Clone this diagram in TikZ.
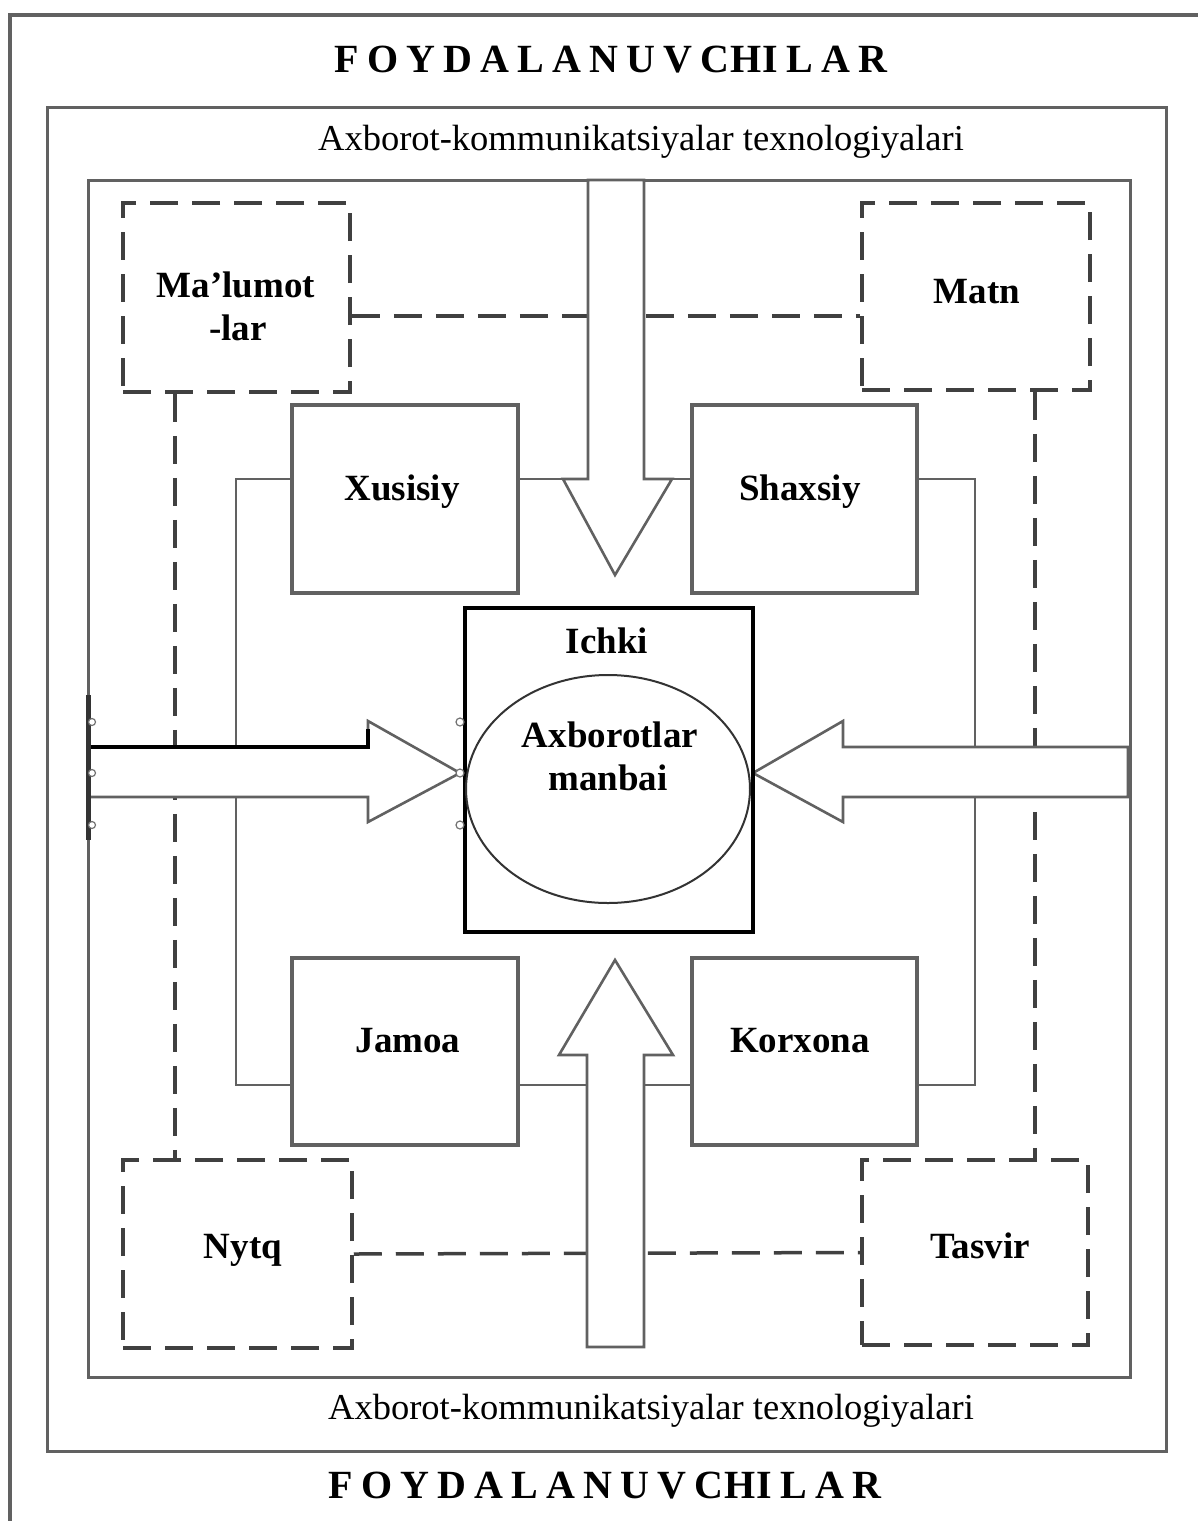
\documentclass[tikz,border=0pt]{standalone}
\usepackage{fontspec}
\setmainfont{Liberation Serif}
\usetikzlibrary{shapes.geometric}
\begin{document}
\begin{tikzpicture}[x=1pt,y=-1pt,
  frame/.style={draw=black!62,line width=3pt},
  box/.style={draw=black!62,line width=3.2pt,fill=white,inner sep=0pt},
  dbox/.style={draw=black!75,line width=3.5pt,dash pattern=on 28pt off 14pt,inner sep=0pt},
  dline/.style={draw=black!75,line width=3.5pt,dash pattern=on 28pt off 14pt},
  link/.style={draw=black!62,line width=2.4pt},
  blockarrow/.style={draw=black!62,line width=2.6pt,fill=white,line join=miter},
  lbl/.style={font=\fontsize{37}{42}\selectfont\bfseries,inner sep=0pt,anchor=base},
  ict/.style={font=\fontsize{36.5}{42}\selectfont,inner sep=0pt,anchor=base},
  users/.style={font=\fontsize{40}{45}\selectfont\bfseries,inner sep=0pt,anchor=base},
  handle/.style={draw=black!55,line width=1.2pt,fill=white}
]
\useasboundingbox (0,0) rectangle (1198,1521);
\fill[white] (0,0) rectangle (1198,1521);

% frames
\draw[frame,line width=3.5pt] (10,1521) -- (10,15) -- (1198,15);
\draw[frame] (47,107) rectangle (1166,1451);
\draw[frame] (88,180) rectangle (1130,1377);

% titles
\node[users] (topUsers) at (611,72) {\makebox[553pt][s]{F\hfill O\hfill Y\hfill D\hfill A\hfill L\hfill A\hfill N\hfill U\hfill V\hfill C\kern1pt H\kern1pt I\hfill L\hfill A\hfill R}};
\node[users] (botUsers) at (605,1498) {\makebox[553pt][s]{F\hfill O\hfill Y\hfill D\hfill A\hfill L\hfill A\hfill N\hfill U\hfill V\hfill C\kern1pt H\kern1pt I\hfill L\hfill A\hfill R}};
\node[ict] (topIct) at (641,150) {Axborot-kommunikatsiyalar texnologiyalari};
\node[ict] (botIct) at (651,1419) {Axborot-kommunikatsiyalar texnologiyalari};

% helper coordinates for the routed links
\coordinate (kL)  at (236,479);
\coordinate (kLb) at (236,1085);
\coordinate (kR)  at (975,479);
\coordinate (kRb) at (975,1085);
\coordinate (dT)  at (0,316);
\coordinate (vL)  at (175,0);
\coordinate (vR)  at (1035,0);
\coordinate (dnL) at (563,479);
\coordinate (dnR) at (672,479);
\coordinate (upL) at (587,1085);
\coordinate (upR) at (644,1085);

% dashed boxes
\node[dbox,minimum width=227pt,minimum height=189pt] (Malumot) at (236.5,297.5) {};
\node[dbox,minimum width=228pt,minimum height=187pt] (Matn)    at (976,296.5) {};
\node[dbox,minimum width=229pt,minimum height=188pt] (Nytq)    at (237.5,1254) {};
\node[dbox,minimum width=226pt,minimum height=185pt] (Tasvir)  at (975,1252.5) {};

% dashed links
\draw[dline] (Malumot.east |- dT) -- (Matn.west |- dT);
\draw[dline] (Nytq.east) -- (Tasvir.west);
\draw[dline] (Malumot.south -| vL) -- (Nytq.north -| vL);
\draw[dline] (Matn.south -| vR) -- (Tasvir.north -| vR);

% solid boxes
\node[box,minimum width=226pt,minimum height=188pt] (Xusisiy) at (405,499) {};
\node[box,minimum width=225pt,minimum height=188pt] (Shaxsiy) at (804.5,499) {};
\node[box,minimum width=226pt,minimum height=187pt] (Jamoa)   at (405,1051.5) {};
\node[box,minimum width=225pt,minimum height=187pt] (Korxona) at (804.5,1051.5) {};

% routed links
\draw[link] (Xusisiy.west |- kL) -- (kL) -- (kLb) -- (Jamoa.west |- kLb);
\draw[link] (Shaxsiy.east |- kR) -- (kR) -- (kRb) -- (Korxona.east |- kRb);
\draw[link] (Xusisiy.east |- kL) -- (dnL);
\draw[link] (dnR) -- (Shaxsiy.west |- kR);
\draw[link] (Jamoa.east |- kLb) -- (upL);
\draw[link] (upR) -- (Korxona.west |- kRb);

% block arrows
\draw[blockarrow] (88,747) -- (368,747) -- (368,721) -- (460,773) -- (368,822) -- (368,797) -- (88,797) -- cycle;
\draw[black,line width=3.6pt] (88,747) -- (368,747) -- (368,729);
\draw[black!80,line width=5pt] (88,695) -- (88,840);
\draw[blockarrow] (1128,747) -- (843,747) -- (843,721) -- (753,773) -- (843,822) -- (843,797) -- (1128,797) -- cycle;
\draw[blockarrow] (588,180) -- (588,479) -- (563,479) -- (615,575) -- (672,479) -- (644,479) -- (644,180) -- cycle;
\draw[blockarrow] (587,1347) -- (587,1055) -- (559,1055) -- (615,960) -- (673,1055) -- (644,1055) -- (644,1347) -- cycle;

% centre block
\node[draw=black,line width=3.6pt,fill=white,minimum width=288pt,minimum height=324pt,inner sep=0pt] (Ichki) at (609,770) {};
\node[draw=black!80,line width=2pt,ellipse,minimum width=284pt,minimum height=228pt,inner sep=0pt] (Manba) at (608,789) {};
\draw[black,line width=4pt] (753,735) -- (753,805);

% selection handles
\foreach \yy in {722,773,825} {
  \draw[handle] (460,\yy) circle (4pt);
  \draw[handle] (92,\yy) circle (3.5pt);
}

% labels
\node[lbl] (tXus) at (402,500) {Xusisiy};
\node[lbl] (tSha) at (800,500) {Shaxsiy};
\node[lbl] (tJam) at (408,1052) {Jamoa};
\node[lbl] (tKor) at (800,1052) {Korxona};
\node[lbl] (tIch) at (607,653) {Ichki};
\node[lbl] (tAx)  at (610,747) {Axborotlar};
\node[lbl] (tMan) at (608,790) {manbai};
\node[lbl] (tMa1) at (236,297) {Ma’lumot};
\node[lbl] (tMa2) at (238,340) {-lar};
\node[lbl] (tMat) at (977,303) {Matn};
\node[lbl] (tNyt) at (243,1258) {Nytq};
\node[lbl] (tTas) at (980,1258) {Tasvir};
\end{tikzpicture}
\end{document}
